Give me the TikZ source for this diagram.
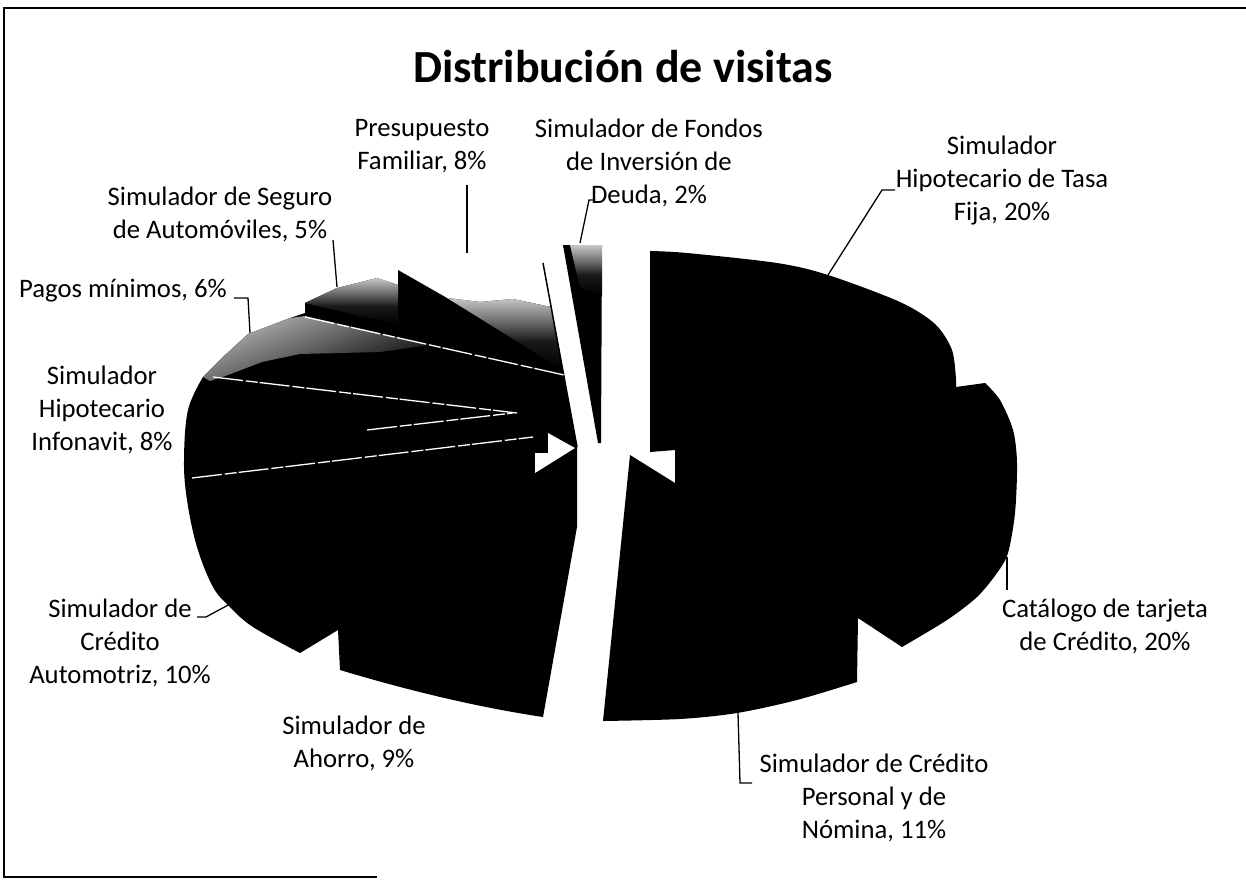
\documentclass[tikz,border=0pt]{standalone}
\usepackage{fontspec}
\setmainfont{Carlito}
\pgfdeclareverticalshading{spk}{100bp}{color(0bp)=(black); color(25bp)=(black); color(45bp)=(black!90); color(60bp)=(black!55); color(75bp)=(black!22); color(100bp)=(black!22)}
\begin{document}
\begin{tikzpicture}[x=1pt,y=-1pt,
  lbl/.style={font=\fontsize{26.7}{33}\selectfont, align=center, inner sep=0pt},
  lead/.style={line width=1.3pt, black},
  wline/.style={white, line width=1.3pt, dash pattern=on 30pt off 3pt on 12pt off 2pt},
  frame/.style={line width=1.3pt, black}]
\useasboundingbox (0,0) rectangle (1246,880);
\fill[white] (0,0) rectangle (1246,880);
\draw[frame] (1246,8) -- (4,8) -- (4,877) -- (377,877);

% ---------- left group ----------
\fill[black] (203,377) -- (223,357) -- (248,334) -- (290,318) -- (305,313) -- (305,303)
  -- (337,288) -- (377,278) -- (398,285) -- (398,270) -- (447,298) -- (480,302) -- (513,299)
  -- (551,307) -- (577,447) -- (577,527) -- (543,717)
  .. controls (470,706) and (400,688) .. (340,670) -- (338,630) -- (300,653)
  -- plot[smooth, tension=0.6] coordinates {(300,653) (253,627) (230,607) (213,587) (197,547) (187,500) (184,460) (188,410) (203,377)}
  -- cycle;
% speckled top faces (light bands along the outer edges)
\shade[top color=black!28, bottom color=black, shading angle=22]
  (203,377) -- (223,357) -- (248,334) -- (290,318) -- (305,316) -- (430,345) -- (380,352)
  -- (300,354) -- (262,362) -- (228,375) -- (210,381) -- cycle;
\shade[shading=spk] (305,303) -- (337,288) -- (377,278) -- (398,285) -- (398,325) -- cycle;
\shade[shading=spk] (447,298) -- (480,302) -- (513,299) -- (551,307) -- (563,370) -- cycle;
\draw[line width=1.5pt] (543,263) -- (577,447);
\fill[white] (548,433) -- (575,448) -- (535,473) -- (535,453) -- (548,453) -- cycle;
\draw[wline] (213,377) -- (517,413);
\draw[wline] (367,430) -- (513,413);
\draw[wline] (192,478) -- (533,437);
\draw[wline] (305,317) -- (573,377);

% ---------- Fondos wedge ----------
\fill[black] (563,245) -- (602,245) -- (601,443) -- (598,443) -- cycle;
\shade[shading=spk] (570,245) -- (602,245) -- (602,295) -- (580,288) -- cycle;

% ---------- right group ----------
\fill[black] (650,251)
  -- plot[smooth, tension=0.5] coordinates {(650,251) (687,253) (777,263) (828,275) (900,302) (935,324) (952,350) (956,380)}
  -- (956,387) -- (985,383)
  -- plot[smooth, tension=0.5] coordinates {(985,383) (1000,400) (1013,430) (1017,463) (1015,513) (1008,553) (997,573) (977,597) (947,620) (902,647)}
  -- (858,618) -- (857,682)
  -- plot[smooth, tension=0.5] coordinates {(857,682) (797,700) (737,713) (680,719) (603,721)}
  -- (630,455) -- (675,483) -- (675,450) -- (650,452) -- cycle;

% ---------- title and labels ----------
\node[font=\bfseries\fontsize{46}{50}\selectfont, inner sep=0pt] (title) at (623,67) {Distribución de visitas};
\node[lbl] (presu) at (422,146.5) {Presupuesto\\Familiar, 8\%};
\node[lbl] (fondos) at (649,163) {Simulador de Fondos\\de Inversión de\\Deuda, 2\%};
\node[lbl] (tasa) at (1002,181) {Simulador\\Hipotecario de Tasa\\Fija, 20\%};
\node[lbl] (seguro) at (220,214) {Simulador de Seguro\\de Automóviles, 5\%};
\node[lbl] (pagos) at (123,291) {Pagos mínimos, 6\%};
\node[lbl] (infon) at (102,410) {Simulador\\Hipotecario\\Infonavit, 8\%};
\node[lbl] (autom) at (120,643) {Simulador de\\Crédito\\Automotriz, 10\%};
\node[lbl] (ahorro) at (354,743.5) {Simulador de\\Ahorro, 9\%};
\node[lbl] (credito) at (874,798) {Simulador de Crédito\\Personal y de\\Nómina, 11\%};
\node[lbl] (catal) at (1105,626.5) {Catálogo de tarjeta\\de Crédito, 20\%};

% ---------- leaders ----------
\coordinate (pr1) at (467,185); \coordinate (pr2) at (467,253);
\draw[lead] (pr1) -- (pr2);
\coordinate (fo1) at (595,200); \coordinate (fo2) at (589,200); \coordinate (fo3) at (580,243);
\draw[lead] (fo1) -- (fo2) -- (fo3);
\coordinate (ta1) at (895,190); \coordinate (ta2) at (882,190); \coordinate (ta3) at (828,275);
\draw[lead] (ta1) -- (ta2) -- (ta3);
\coordinate (se1) at (333,240); \coordinate (se2) at (337,287);
\draw[lead] (se1) -- (se2);
\coordinate (pa1) at (234,298); \coordinate (pa2) at (248,298); \coordinate (pa3) at (250,333);
\draw[lead] (pa1) -- (pa2) -- (pa3);
\coordinate (au1) at (197,617); \coordinate (au2) at (206,617); \coordinate (au3) at (230,604);
\draw[lead] (au1) -- (au2) -- (au3);
\coordinate (ca1) at (1007,557); \coordinate (ca2) at (1007,590);
\draw[lead] (ca1) -- (ca2);
\coordinate (cr1) at (738,713); \coordinate (cr2) at (740,783); \coordinate (cr3) at (752,783);
\draw[lead] (cr1) -- (cr2) -- (cr3);
\end{tikzpicture}
\end{document}
